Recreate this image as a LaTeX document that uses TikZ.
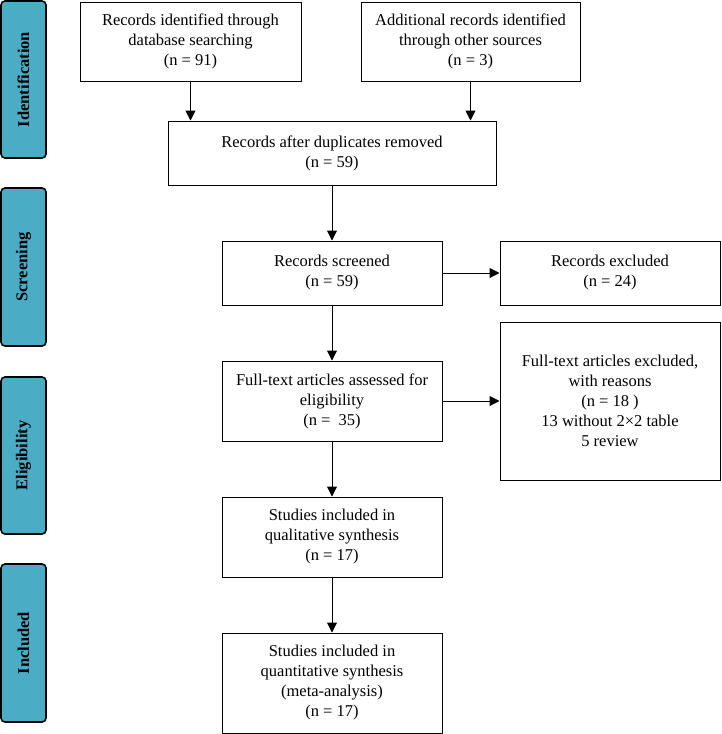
\documentclass[tikz,border=0pt]{standalone}
\usepackage{fontspec}
\setmainfont{Liberation Serif}
\usetikzlibrary{arrows.meta}
\definecolor{phase}{HTML}{4BACC6}
\begin{document}
\begin{tikzpicture}[x=1pt,y=-1pt,
  box/.style={draw=black,line width=1pt,fill=white,align=center,inner sep=2pt,
    font=\fontsize{16.5}{20}\selectfont},
  phasebox/.style={draw=black,line width=1.6pt,fill=phase,rounded corners=4pt,
    minimum width=45pt},
  phasetext/.style={rotate=90,font=\fontsize{16.5}{20}\selectfont\bfseries},
  arr/.style={line width=1pt,-{Triangle[length=10pt,width=10pt]}}]
\useasboundingbox (0,0) rectangle (721,734);
% phase labels
\node[phasebox,minimum height=157pt] (pid) at (23.5,79.5) {};
\node[phasetext] (tid) at (pid.center) {Identification};
\node[phasebox,minimum height=158pt] (pscr) at (23.5,267) {};
\node[phasetext] (tscr) at (pscr.center) {Screening};
\node[phasebox,minimum height=157pt] (pel) at (23.5,455.5) {};
\node[phasetext] (tel) at (pel.center) {Eligibility};
\node[phasebox,minimum height=158pt] (pin) at (23.5,643) {};
\node[phasetext] (tin) at (pin.center) {Included};
% boxes
\node[box,minimum width=221pt,minimum height=79pt] (db) at (190.5,41.5)
  {Records identified through\\database searching\\(n = 91)};
\node[box,minimum width=219pt,minimum height=79pt] (oth) at (470.5,41.5)
  {Additional records identified\\through other sources\\(n = 3)};
\node[box,minimum width=328pt,minimum height=64pt] (dup) at (332,153)
  {Records after duplicates removed\\(n = 59)};
\node[box,minimum width=220pt,minimum height=64pt] (scr) at (332,273)
  {Records screened\\(n = 59)};
\node[box,minimum width=220pt,minimum height=64pt] (exc) at (610,273)
  {Records excluded\\(n = 24)};
\node[box,minimum width=220pt,minimum height=80pt] (ft) at (332,401)
  {Full-text articles assessed for\\eligibility\\(n = \ 35)};
\node[box,minimum width=220pt,minimum height=158pt] (ftx) at (610,401)
  {Full-text articles excluded,\\with reasons\\(n = 18 )\\13 without 2×2 table\\5 review};
\node[box,minimum width=220pt,minimum height=80pt] (qual) at (332,537)
  {Studies included in\\qualitative synthesis\\(n = 17)};
\node[box,minimum width=220pt,minimum height=100pt] (quant) at (332,683)
  {Studies included in\\quantitative synthesis\\(meta-analysis)\\(n = 17)};
% arrows
\draw[arr] (db.south) -- (db.south |- dup.north);
\draw[arr] (oth.south) -- (oth.south |- dup.north);
\draw[arr] (dup.south) -- (scr.north);
\draw[arr] (scr.east) -- (exc.west);
\draw[arr] (scr.south) -- (ft.north);
\draw[arr] (ft.east) -- (ftx.west);
\draw[arr] (ft.south) -- (qual.north);
\draw[arr] (qual.south) -- (quant.north);
\end{tikzpicture}
\end{document}
